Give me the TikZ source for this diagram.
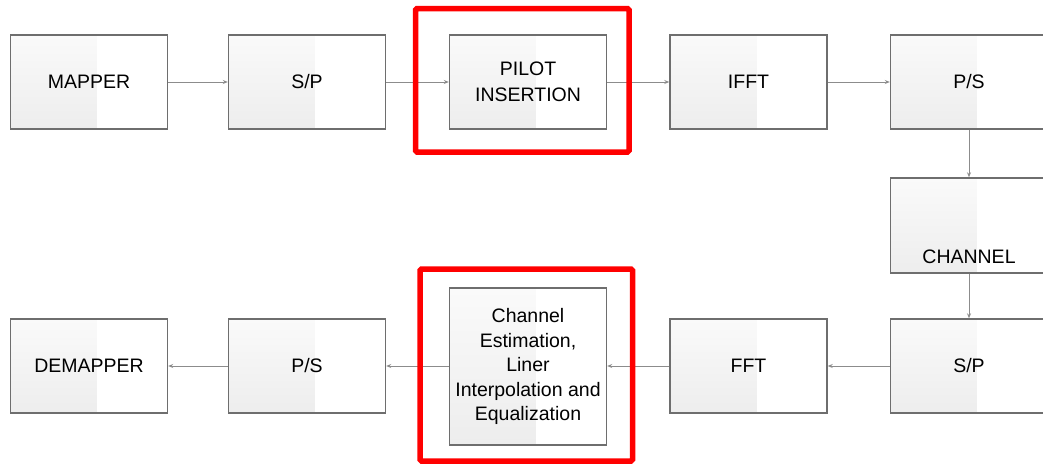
\documentclass[tikz,border=0pt]{standalone}
\usepackage{fontspec}
\setmainfont{Liberation Sans}
\usetikzlibrary{arrows.meta,calc}
\definecolor{boxline}{HTML}{6E6E6E}
\definecolor{arrline}{HTML}{8C8C8C}
\definecolor{shtop}{HTML}{FAFAFA}
\definecolor{shbot}{HTML}{EDEDED}
\definecolor{hilite}{HTML}{FF0000}
\tikzset{
  blockbox/.style={draw=boxline, line width=1.4pt, minimum width=157pt, minimum height=94pt,
    inner sep=0pt, align=center, font=\fontsize{19.5}{24.5}\selectfont,
    path picture={\shade[top color=shtop, bottom color=shbot]
      (path picture bounding box.south west) rectangle
      ($(path picture bounding box.north west)!0.55!(path picture bounding box.north east)$);}},
  flow/.style={draw=arrline, line width=0.9pt, -{Stealth[length=5pt,width=4pt]}},
  redframe/.style={draw=hilite, line width=5.5pt, rounded corners=1.5pt},
  plaintext/.style={inner sep=0pt, font=\fontsize{19.5}{24.5}\selectfont}
}
\begin{document}
\begin{tikzpicture}[x=1pt,y=-1pt]
\useasboundingbox (0,0) rectangle (1043,464);
\clip (0,0) rectangle (1043,464);
% top row
\node[blockbox] (map) at (89,82) {MAPPER};
\node[blockbox] (sp1) at (307,82) {S/P};
\node[blockbox, font=\fontsize{19.5}{26}\selectfont] (pil) at (528,82) {PILOT\\INSERTION};
\node[blockbox] (ifft) at (748.5,82) {IFFT};
\node[blockbox] (ps1) at (969,82) {P/S};
% channel
\node[blockbox, minimum height=95pt] (ch) at (969,225.5) {};
\node[plaintext] (chtxt) at (969,256.5) {CHANNEL};
% bottom row
\node[blockbox] (sp2) at (969,366) {S/P};
\node[blockbox] (fft) at (748.5,366) {FFT};
\node[blockbox, minimum height=157pt] (est) at (528,366.5) {Channel\\Estimation,\\Liner\\Interpolation and\\Equalization};
\node[blockbox] (ps2) at (307,366) {P/S};
\node[blockbox] (dem) at (89,366) {DEMAPPER};
% connectors
\draw[flow] (map) -- (sp1);
\draw[flow] (sp1) -- (pil);
\draw[flow] (pil) -- (ifft);
\draw[flow] (ifft) -- (ps1);
\draw[flow] (ps1) -- (ch);
\draw[flow] (ch) -- (sp2);
\draw[flow] (sp2) -- (fft);
\draw[flow] (fft.west) -- (est.east |- fft.west);
\draw[flow] (est.west |- ps2.east) -- (ps2.east);
\draw[flow] (ps2) -- (dem);
% highlight frames
\coordinate (r1a) at (415.5,8.5);
\coordinate (r1b) at (629,152);
\coordinate (r2a) at (420,269);
\coordinate (r2b) at (632.5,461);
\draw[redframe] (r1a) rectangle (r1b);
\draw[redframe] (r2a) rectangle (r2b);
\end{tikzpicture}
\end{document}
